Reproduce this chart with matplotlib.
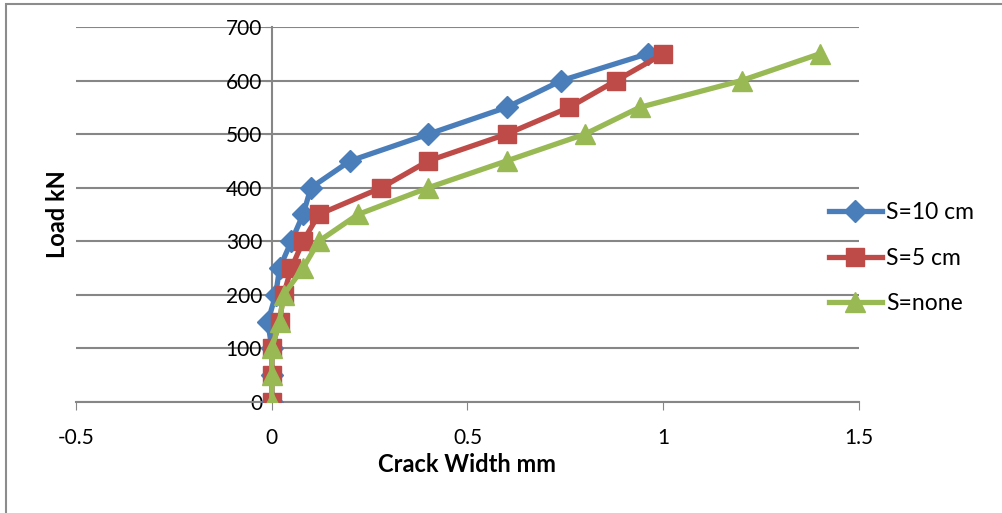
import matplotlib
matplotlib.use('Agg')
import matplotlib.pyplot as plt
from matplotlib.patches import Rectangle

# 数据 (load kN vs crack width mm)
load = [0, 50, 100, 150, 200, 250, 300, 350, 400, 450, 500, 550, 600, 650]
s10 = [0, 0, 0, -0.01, 0.01, 0.02, 0.05, 0.08, 0.1, 0.2, 0.4, 0.6, 0.74, 0.96]
s5 = [0, 0, 0, 0.02, 0.03, 0.05, 0.08, 0.12, 0.28, 0.4, 0.6, 0.76, 0.88, 1.0]
snone = [0, 0, 0, 0.02, 0.03, 0.08, 0.12, 0.22, 0.4, 0.6, 0.8, 0.94, 1.2, 1.4]
labels = ['S=10 cm', 'S=5 cm', 'S=none']
xticks = [-0.5, 0, 0.5, 1, 1.5]
yticks = [0, 100, 200, 300, 400, 500, 600, 700]

plt.rcParams['font.family'] = ['Lato', 'DejaVu Sans']

fig = plt.figure(figsize=(10.03, 5.13), dpi=100)
ax = fig.add_axes([0.0758, 0.2164, 0.7806, 0.731])

# 外框
fig.patches.append(Rectangle((0.006, -0.2), 1.2, 1.193, transform=fig.transFigure,
                             fill=False, edgecolor='#8c8c8c', linewidth=1.5))

ax.plot(s10, load, color='#4a7ebb', lw=3.8, marker='D', ms=11.5, label=labels[0], zorder=3)
ax.plot(s5, load, color='#be4b48', lw=3.8, marker='s', ms=13.5, label=labels[1], zorder=4)
ax.plot(snone, load, color='#98b954', lw=3.8, marker='^', ms=15, label=labels[2], zorder=5)

ax.set_xlim(-0.5, 1.5)
ax.set_ylim(0, 700)
ax.set_xticks(xticks)
ax.set_xticklabels(['-0.5', '0', '0.5', '1', '1.5'])
ax.set_yticks(yticks)

ax.yaxis.grid(True, color='#868686', lw=1.5)
ax.set_axisbelow(True)
for s in ['top', 'right']:
    ax.spines[s].set_visible(False)
ax.spines['left'].set_position(('data', 0))
ax.spines['left'].set_color('#868686')
ax.spines['bottom'].set_color('#868686')
ax.spines['left'].set_linewidth(1.5)
ax.spines['bottom'].set_linewidth(1.5)
ax.tick_params(axis='y', length=5, color='#868686', labelsize=15, pad=2)
ax.tick_params(axis='x', length=6, color='#868686', labelsize=15, pad=13)

ax.set_xlabel('Crack Width mm', fontsize=17, fontweight='bold', labelpad=3)
fig.text(0.057, 0.582, 'Load kN', rotation=90, fontsize=17, fontweight='bold',
         ha='center', va='center')

ax.legend(loc='center left', bbox_to_anchor=(0.806, 0.497), bbox_transform=fig.transFigure,
          frameon=False, fontsize=16.5, handlelength=2.3, handletextpad=0.2,
          labelspacing=1.05)

fig.savefig('out.png', dpi=100)
